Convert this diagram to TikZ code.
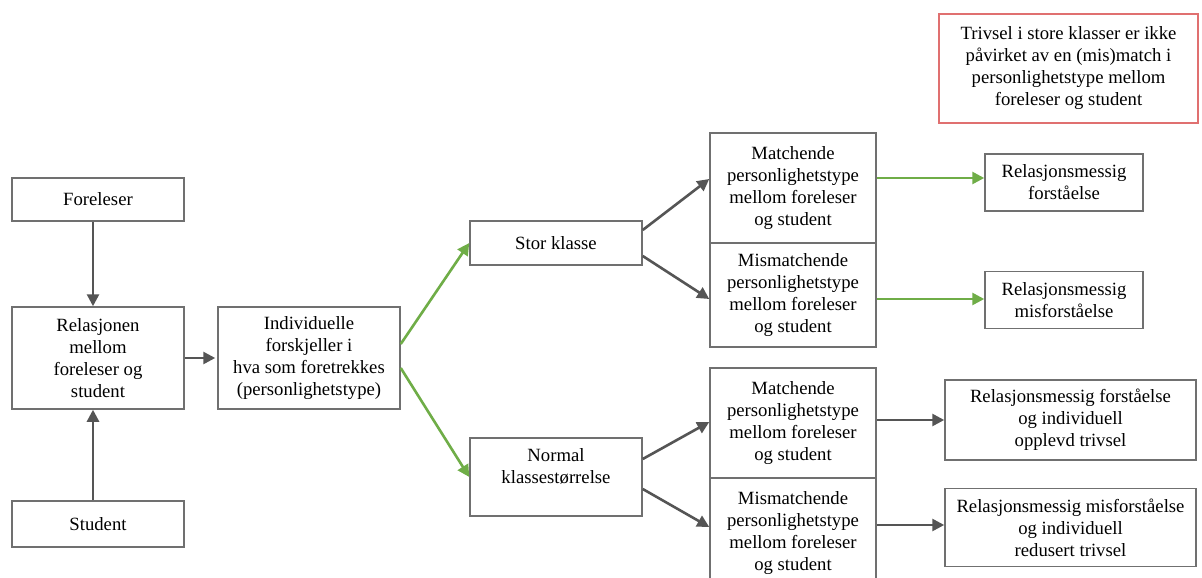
\documentclass[tikz,border=0pt]{standalone}
\usepackage{fontspec}
\setmainfont{Liberation Serif}
\usetikzlibrary{arrows.meta}
\definecolor{boxline}{HTML}{707070}
\definecolor{arrgray}{HTML}{555555}
\definecolor{arrgreen}{HTML}{6FAD47}
\definecolor{noteline}{HTML}{E07070}
\begin{document}
\begin{tikzpicture}[x=1pt,y=-1pt,
  box/.style={draw=boxline,line width=1.5pt,fill=white,inner sep=0pt,align=center,
    font=\fontsize{18.7}{22}\selectfont},
  notebox/.style={box,draw=noteline,line width=1.8pt},
  garrow/.style={draw=arrgray,line width=2.6pt,-{Triangle[length=12pt,width=12pt]}},
  grarrow/.style={draw=arrgreen,line width=2.6pt,-{Triangle[length=12pt,width=12pt]}}]
\fill[white] (0,0) rectangle (1202,578);
\useasboundingbox (0,0) rectangle (1202,578);

% left column
\node[box,minimum width=172pt,minimum height=43pt] (fore) at (98,199.5) {Foreleser};
\node[box,minimum width=172pt,minimum height=102pt] (rel) at (98,358)
  {Relasjonen\\mellom\\foreleser og\\student};
\node[box,minimum width=172pt,minimum height=46pt] (stud) at (98,524) {Student};
\node[box,minimum width=182pt,minimum height=102pt] (indiv) at (309,358)
  {Individuelle\\forskjeller i\\hva som foretrekkes\\(personlighetstype)};

% class size
\node[box,minimum width=172pt,minimum height=44pt] (stor) at (556,243) {Stor klasse};
\node[box,minimum width=172pt,minimum height=78pt] (normal) at (556,477)
  {Normal\\klassestørrelse\\\mbox{}};

% match / mismatch
\node[box,minimum width=166pt,minimum height=110pt] (m1) at (793,188)
  {Matchende\\personlighetstype\\mellom foreleser\\og student};
\node[box,minimum width=166pt,minimum height=104pt] (mm1) at (793,295)
  {Mismatchende\\personlighetstype\\mellom foreleser\\og student};
\node[box,minimum width=166pt,minimum height=110pt] (m2) at (793,423)
  {Matchende\\personlighetstype\\mellom foreleser\\og student};
\node[box,minimum width=166pt,minimum height=110pt] (mm2) at (793,533)
  {Mismatchende\\personlighetstype\\mellom foreleser\\og student};

% outcomes
\node[box,minimum width=158pt,minimum height=57pt] (rf) at (1064,182.5)
  {Relasjonsmessig\\forståelse};
\node[box,minimum width=158pt,minimum height=57pt] (rm) at (1064,300)
  {Relasjonsmessig\\misforståelse};
\node[box,minimum width=251pt,minimum height=80pt] (rfo) at (1070.5,420)
  {Relasjonsmessig forståelse\\og individuell\\opplevd trivsel};
\node[box,minimum width=251pt,minimum height=78pt] (rmi) at (1070.5,527.5)
  {Relasjonsmessig misforståelse\\og individuell\\redusert trivsel};

% note
\node[notebox,minimum width=259pt,minimum height=109pt] (note) at (1068.5,68.5)
  {Trivsel i store klasser er ikke\\påvirket av en (mis)match i\\personlighetstype mellom\\foreleser og student};

% connectors
\draw[garrow] ([xshift=-5pt]fore.south) -- ([xshift=-5pt]rel.north);
\draw[garrow] ([xshift=-5pt]stud.north) -- ([xshift=-5pt]rel.south);
\draw[garrow] (rel.east) -- ([xshift=-2pt]indiv.west);
\draw[grarrow] ([yshift=14pt]indiv.east) -- (stor.west);
\draw[grarrow] ([yshift=-10pt]indiv.east) -- (normal.west);
\draw[garrow] ([yshift=13pt]stor.east) -- ([yshift=9pt]m1.west);
\draw[garrow] ([yshift=-13pt]stor.east) -- ([yshift=-4pt]mm1.west);
\draw[garrow] ([yshift=18pt]normal.east) -- ([yshift=1pt]m2.west);
\draw[garrow] ([yshift=-12pt]normal.east) -- ([yshift=6pt]mm2.west);
\draw[grarrow] ([yshift=10pt]m1.east) -- ([yshift=4.5pt]rf.west);
\draw[grarrow] ([yshift=-4pt]mm1.east) -- ([yshift=1pt]rm.west);
\draw[garrow] ([yshift=3pt]m2.east) -- (rfo.west);
\draw[garrow] ([yshift=8pt]mm2.east) -- ([yshift=2.5pt]rmi.west);
\end{tikzpicture}
\end{document}
